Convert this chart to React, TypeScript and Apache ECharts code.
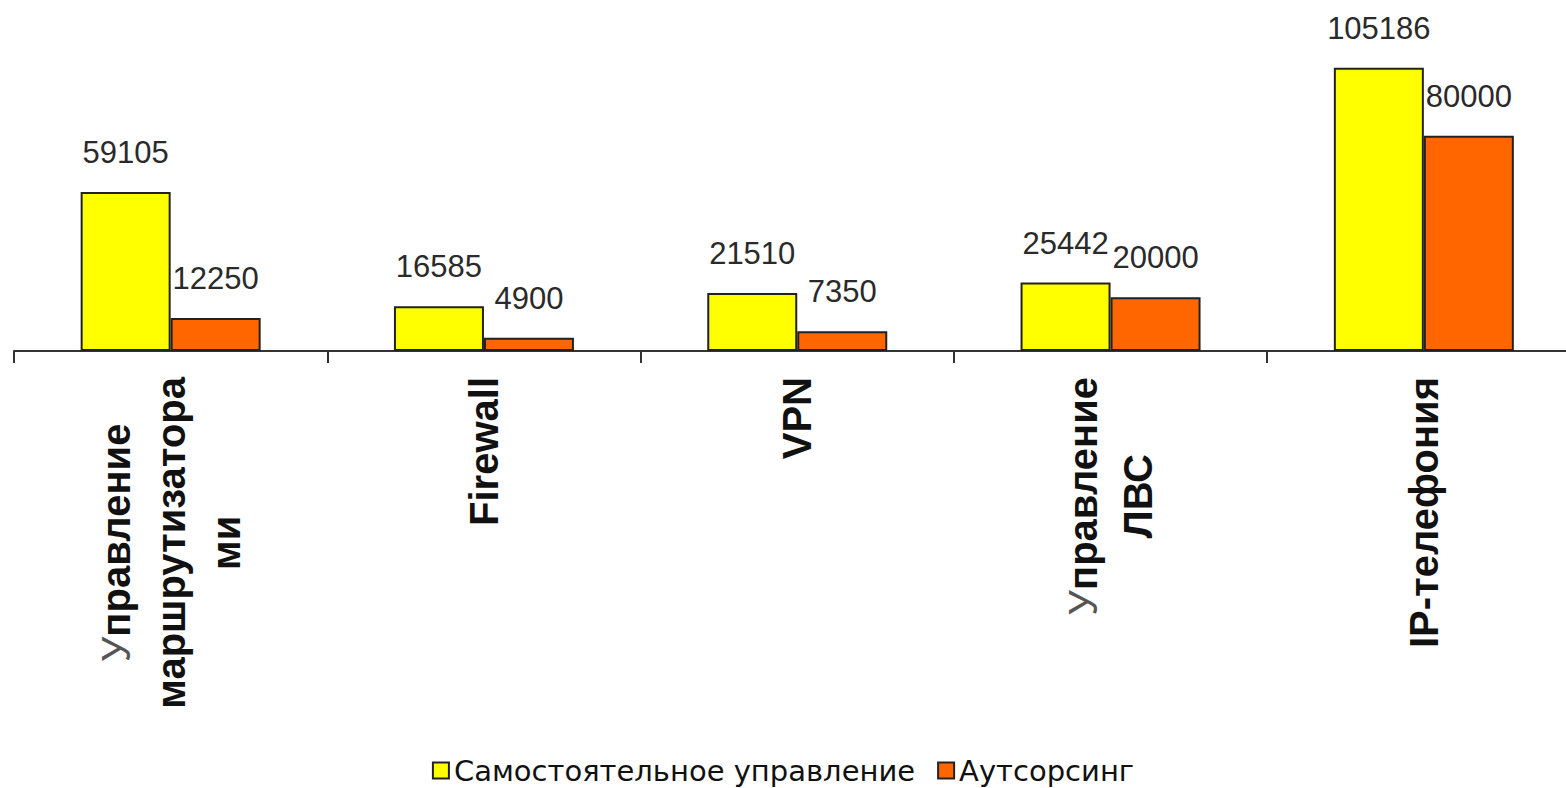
import React, { useEffect, useRef } from "react";
import * as echarts from "echarts";

const categories = [
  "Управление\nмаршрутизатора\nми",
  "Firewall",
  "VPN",
  "Управление\nЛВС",
  "IP-телефония",
];
const selfValues = [59105, 16585, 21510, 25442, 105186];
const outsourceValues = [12250, 4900, 7350, 20000, 80000];
const seriesNames = ["Самостоятельное управление", "Аутсорсинг"];

const FONT = "'Liberation Sans', Arial, sans-serif";

function formatCategory(v: string): string {
  return v
    .split("\n")
    .map((line) => {
      if (line.startsWith("У")) {
        return "{u|У}{b|" + line.slice(1) + "}";
      }
      return "{b|" + line + "}";
    })
    .join("\n");
}

export default function App() {
  const ref = useRef<HTMLDivElement>(null);
  useEffect(() => {
    document.body.style.margin = "0";
    const chart = echarts.init(ref.current!, null, { renderer: "svg" });
    const valueLabel = {
      show: true,
      position: "top" as const,
      distance: 24,
      fontFamily: FONT,
      fontSize: 31,
      color: "#2a2a2a",
    };
    chart.setOption({
      animation: false,
      backgroundColor: "#fff",
      grid: { left: 31, top: 28, width: 1566.5, height: 323, containLabel: false },
      legend: {
        bottom: -2,
        left: "center",
        icon: "rect",
        itemWidth: 16,
        itemHeight: 16,
        itemGap: 22,
        textStyle: { fontFamily: "'DejaVu Sans', sans-serif", fontSize: 29, color: "#111" },
        data: seriesNames,
      },
      xAxis: {
        type: "category",
        data: categories,
        axisLine: { lineStyle: { color: "#333", width: 2 } },
        axisTick: { show: true, length: 12, lineStyle: { color: "#333", width: 2 } },
        axisLabel: {
          interval: 0,
          rotate: 90,
          margin: 26,
          formatter: formatCategory,
          rich: {
            b: {
              fontFamily: FONT,
              fontSize: 40,
              fontWeight: "bold",
              color: "#111",
              align: "center",
              lineHeight: 55,
            },
            u: {
              fontFamily: FONT,
              fontSize: 40,
              fontWeight: "normal",
              color: "#555",
              align: "center",
              lineHeight: 55,
            },
          },
        },
      },
      yAxis: {
        type: "value",
        min: 0,
        max: 120000,
        show: false,
        splitLine: { show: false },
      },
      series: [
        {
          name: seriesNames[0],
          type: "bar",
          data: selfValues,
          barWidth: 90,
          barGap: "0%",
          itemStyle: { color: "#FFFF00", borderColor: "#222", borderWidth: 2 },
          label: valueLabel,
        },
        {
          name: seriesNames[1],
          type: "bar",
          data: outsourceValues,
          barWidth: 90,
          barGap: "0%",
          itemStyle: { color: "#FF6600", borderColor: "#222", borderWidth: 2 },
          label: valueLabel,
        },
      ],
    });
    return () => chart.dispose();
  }, []);
  return (
    <div style={{ width: 1566, height: 788, overflow: "hidden", position: "relative" }}>
      <div ref={ref} style={{ width: 1600, height: 788, marginLeft: -17 }} />
    </div>
  );
}
